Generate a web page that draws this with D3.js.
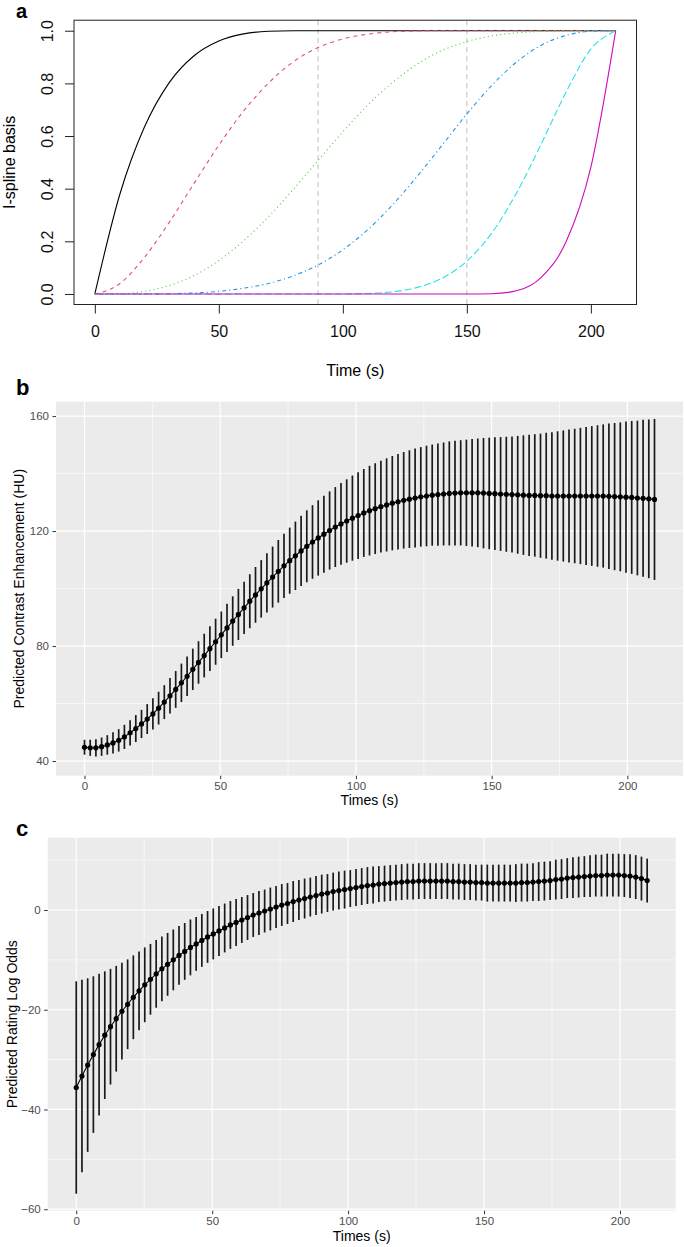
<!DOCTYPE html>
<html>
<head>
<meta charset="utf-8">
<script src="https://cdn.jsdelivr.net/npm/d3@7"></script>
<style>
  body { margin: 0; background: #fff; }
  svg { display: block; font-family: "Liberation Sans", Arial, Helvetica, sans-serif; }
</style>
</head>
<body>
<svg id="fig" width="685" height="1247"></svg>
<script>
// ---- panel a: I-spline basis, read every 10 s ----
const splineTimes = [0, 10, 20, 30, 40, 50, 60, 70, 80, 90, 100, 110, 120, 130, 140, 150, 160, 170, 180, 190, 200, 210];
const basis1 = [0, 0.376, 0.634, 0.803, 0.905, 0.961, 0.988, 0.998, 1, 1, 1, 1, 1, 1, 1, 1, 1, 1, 1, 1, 1, 1];
const basis2 = [0, 0.039, 0.139, 0.272, 0.420, 0.565, 0.695, 0.801, 0.882, 0.936, 0.969, 0.987, 0.996, 0.999, 1, 1, 1, 1, 1, 1, 1, 1];
const basis3 = [0, 0.001, 0.010, 0.032, 0.070, 0.127, 0.202, 0.293, 0.397, 0.507, 0.616, 0.717, 0.803, 0.873, 0.925, 0.959, 0.980, 0.992, 0.997, 0.999, 1, 1];
const basis4 = [0, 0, 0, 0.001, 0.004, 0.010, 0.022, 0.040, 0.069, 0.110, 0.168, 0.244, 0.338, 0.447, 0.565, 0.684, 0.792, 0.881, 0.945, 0.982, 0.998, 1];
const basis5 = [0, 0, 0, 0, 0, 0, 0, 0, 0, 0, 0, 0.002, 0.008, 0.025, 0.060, 0.125, 0.231, 0.383, 0.570, 0.767, 0.930, 1];
const basis6 = [0, 0, 0, 0, 0, 0, 0, 0, 0, 0, 0, 0, 0, 0, 0, 0, 0.001, 0.012, 0.063, 0.198, 0.482, 1];
const knots = [90, 150];

// ---- panels b and c: predictions on a 2.1 s grid ----
const times = [0, 2.1, 4.2, 6.3, 8.4, 10.5, 12.6, 14.7, 16.8, 18.9, 21, 23.1, 25.2, 27.3, 29.4, 31.5, 33.6, 35.7, 37.8, 39.9,
  42, 44.1, 46.2, 48.3, 50.4, 52.5, 54.6, 56.7, 58.8, 60.9, 63, 65.1, 67.2, 69.3, 71.4, 73.5, 75.6, 77.7, 79.8, 81.9,
  84, 86.1, 88.2, 90.3, 92.4, 94.5, 96.6, 98.7, 100.8, 102.9, 105, 107.1, 109.2, 111.3, 113.4, 115.5, 117.6, 119.7, 121.8, 123.9,
  126, 128.1, 130.2, 132.3, 134.4, 136.5, 138.6, 140.7, 142.8, 144.9, 147, 149.1, 151.2, 153.3, 155.4, 157.5, 159.6, 161.7, 163.8, 165.9,
  168, 170.1, 172.2, 174.3, 176.4, 178.5, 180.6, 182.7, 184.8, 186.9, 189, 191.1, 193.2, 195.3, 197.4, 199.5, 201.6, 203.7, 205.8, 207.9, 210];

const enhMean = [44.8, 44.6, 44.6, 45.0, 45.6, 46.3, 47.2, 48.4, 49.8, 51.3,
  52.9, 54.6, 56.4, 58.4, 60.5, 62.7, 64.9, 67.2, 69.5, 71.9,
  74.3, 76.7, 79.1, 81.5, 83.9, 86.3, 88.7, 91.0, 93.3, 95.6,
  97.8, 99.9, 102.0, 104.0, 106.0, 107.9, 109.7, 111.4, 113.1, 114.7,
  116.2, 117.6, 118.9, 120.2, 121.4, 122.5, 123.5, 124.5, 125.4, 126.3,
  127.1, 127.8, 128.5, 129.1, 129.7, 130.2, 130.7, 131.1, 131.5, 131.9,
  132.2, 132.5, 132.7, 132.9, 133.1, 133.2, 133.3, 133.3, 133.3, 133.3,
  133.2, 133.1, 133.0, 132.9, 132.8, 132.7, 132.6, 132.5, 132.4, 132.4,
  132.3, 132.3, 132.2, 132.2, 132.2, 132.2, 132.2, 132.2, 132.2, 132.2,
  132.2, 132.2, 132.1, 132.0, 131.9, 131.8, 131.7, 131.5, 131.4, 131.2, 131.0];
const enhErr = [2.6, 2.8, 3.0, 3.2, 3.4, 3.7, 3.9, 4.2, 4.4, 4.7,
  4.9, 5.2, 5.4, 5.7, 5.9, 6.2, 6.4, 6.7, 6.9, 7.2,
  7.4, 7.6, 7.8, 8.0, 8.1, 8.4, 8.6, 8.9, 9.1, 9.4,
  9.7, 10.0, 10.3, 10.6, 10.9, 11.2, 11.5, 11.9, 12.2, 12.5,
  12.8, 13.1, 13.4, 13.6, 13.9, 14.2, 14.5, 14.8, 15.1, 15.3,
  15.6, 15.8, 16.0, 16.2, 16.4, 16.6, 16.8, 17.0, 17.2, 17.3,
  17.5, 17.6, 17.8, 17.9, 18.1, 18.2, 18.3, 18.5, 18.7, 18.9,
  19.2, 19.4, 19.6, 19.8, 20.0, 20.2, 20.5, 20.8, 21.1, 21.3,
  21.6, 21.9, 22.2, 22.5, 22.8, 23.1, 23.4, 23.7, 24.0, 24.3,
  24.6, 24.9, 25.3, 25.6, 25.9, 26.3, 26.6, 26.9, 27.3, 27.6, 28.0];

const oddsMean = [-35.6, -33.3, -31.1, -29.0, -27.0, -25.1, -23.4, -21.8, -20.3, -18.9,
  -17.5, -16.2, -15.0, -13.9, -12.8, -11.8, -10.9, -10.0, -9.1, -8.3,
  -7.5, -6.8, -6.1, -5.4, -4.8, -4.2, -3.6, -3.0, -2.5, -2.0,
  -1.5, -1.0, -0.6, -0.2, 0.2, 0.6, 1.0, 1.3, 1.7, 2.0,
  2.3, 2.6, 2.9, 3.2, 3.4, 3.7, 3.9, 4.1, 4.3, 4.5,
  4.7, 4.9, 5.0, 5.2, 5.3, 5.4, 5.5, 5.6, 5.7, 5.7,
  5.8, 5.8, 5.8, 5.8, 5.8, 5.8, 5.7, 5.7, 5.6, 5.6,
  5.5, 5.5, 5.4, 5.4, 5.4, 5.4, 5.4, 5.4, 5.5, 5.5,
  5.6, 5.7, 5.8, 5.9, 6.1, 6.2, 6.4, 6.5, 6.6, 6.7,
  6.8, 6.9, 6.9, 7.0, 7.0, 7.0, 6.9, 6.8, 6.6, 6.3, 5.9];
const oddsErr = [21.3, 19.3, 17.4, 15.7, 14.2, 12.8, 11.6, 10.6, 9.7, 9.0,
  8.4, 7.9, 7.5, 7.1, 6.8, 6.5, 6.3, 6.1, 5.9, 5.7,
  5.6, 5.4, 5.3, 5.2, 5.1, 5.0, 4.9, 4.8, 4.7, 4.6,
  4.5, 4.4, 4.4, 4.3, 4.3, 4.2, 4.2, 4.1, 4.1, 4.0,
  4.0, 3.9, 3.9, 3.9, 3.8, 3.8, 3.8, 3.8, 3.7, 3.7,
  3.7, 3.7, 3.7, 3.6, 3.6, 3.6, 3.6, 3.6, 3.6, 3.6,
  3.6, 3.6, 3.6, 3.6, 3.6, 3.6, 3.6, 3.6, 3.6, 3.6,
  3.6, 3.6, 3.7, 3.7, 3.7, 3.7, 3.7, 3.8, 3.8, 3.8,
  3.8, 3.9, 3.9, 3.9, 4.0, 4.0, 4.0, 4.1, 4.1, 4.1,
  4.2, 4.2, 4.2, 4.3, 4.3, 4.3, 4.3, 4.4, 4.4, 4.4, 4.4];

const svg = d3.select("#fig");

// ================= panel a (base R style) =================
const A = { left: 74, right: 636.5, top: 20.2, bottom: 304.5 };
const ax = d3.scaleLinear().domain([-8.4, 218.4]).range([A.left, A.right]);
const ay = d3.scaleLinear().domain([-0.04, 1.04]).range([A.bottom, A.top]);
const ga = svg.append("g");

// knot lines
ga.selectAll("line.knot").data(knots).join("line")
    .attr("x1", d => ax(d)).attr("x2", d => ax(d))
    .attr("y1", A.top).attr("y2", A.bottom)
    .attr("stroke", "#bdbdbd").attr("stroke-width", 1).attr("stroke-dasharray", "5,4");

const basisSeries = [
  { values: basis1, color: "#000000", dash: null },
  { values: basis2, color: "#DF536B", dash: "4,4" },
  { values: basis3, color: "#61D04F", dash: "1.2,3" },
  { values: basis4, color: "#2297E6", dash: "1.2,3,4,3" },
  { values: basis5, color: "#28E2E5", dash: "7,3" },
  { values: basis6, color: "#CD0BBC", dash: null }
];
const basisLine = d3.line()
    .x((d, i) => ax(splineTimes[i]))
    .y(d => ay(d))
    .curve(d3.curveMonotoneX);

ga.selectAll("path.basis").data(basisSeries).join("path")
    .attr("d", s => basisLine(s.values))
    .attr("fill", "none")
    .attr("stroke", s => s.color)
    .attr("stroke-width", 1.1)
    .attr("stroke-dasharray", s => s.dash);

// box
ga.append("rect").attr("x", A.left).attr("y", A.top)
    .attr("width", A.right - A.left).attr("height", A.bottom - A.top)
    .attr("fill", "none").attr("stroke", "#222").attr("stroke-width", 1);

const axA = ga.append("g").attr("transform", `translate(0,${A.bottom})`)
    .call(d3.axisBottom(ax).tickValues([0, 50, 100, 150, 200]).tickSize(9).tickPadding(12).tickSizeOuter(0));
axA.select(".domain").remove();
axA.selectAll("line").attr("stroke", "#222");
axA.selectAll("text").attr("font-size", 16).attr("fill", "#111");

const ayA = ga.append("g").attr("transform", `translate(${A.left},0)`)
    .call(d3.axisLeft(ay).tickValues([0, 0.2, 0.4, 0.6, 0.8, 1]).tickFormat(d3.format(".1f")).tickSize(9));
ayA.select(".domain").remove();
ayA.selectAll("line").attr("stroke", "#222");
ayA.selectAll("text")
    .attr("font-size", 16).attr("fill", "#111")
    .attr("x", null).attr("dy", null)
    .attr("text-anchor", "middle")
    .attr("transform", "translate(-21,0) rotate(-90)");

ga.append("text").attr("x", (A.left + A.right) / 2).attr("y", 376)
    .attr("text-anchor", "middle").attr("font-size", 16).text("Time (s)");
ga.append("text").attr("transform", `translate(15,${(A.top + A.bottom) / 2}) rotate(-90)`)
    .attr("text-anchor", "middle").attr("font-size", 16).text("I-spline basis");
ga.append("text").attr("x", 16).attr("y", 18).attr("font-size", 20).attr("font-weight", "bold").text("a");

// ================= panels b, c (ggplot style) =================
function ggPanel(cfg) {
  const g = svg.append("g");
  const x = d3.scaleLinear().domain(cfg.xDomain).range([cfg.left, cfg.right]);
  const y = d3.scaleLinear().domain(cfg.yDomain).range([cfg.bottom, cfg.top]);
  const rows = times.map((t, i) => ({ t, mean: cfg.mean[i], err: cfg.err[i] }));

  g.append("rect").attr("x", cfg.left).attr("y", cfg.top)
      .attr("width", cfg.right - cfg.left).attr("height", cfg.bottom - cfg.top)
      .attr("fill", "#EBEBEB");

  // grid
  g.selectAll("line.vmin").data(cfg.xMinor).join("line")
      .attr("x1", d => x(d)).attr("x2", d => x(d)).attr("y1", cfg.top).attr("y2", cfg.bottom)
      .attr("stroke", "#fff").attr("stroke-width", 0.6);
  g.selectAll("line.hmin").data(cfg.yMinor).join("line")
      .attr("y1", d => y(d)).attr("y2", d => y(d)).attr("x1", cfg.left).attr("x2", cfg.right)
      .attr("stroke", "#fff").attr("stroke-width", 0.6);
  g.selectAll("line.vmaj").data(cfg.xTicks).join("line")
      .attr("x1", d => x(d)).attr("x2", d => x(d)).attr("y1", cfg.top).attr("y2", cfg.bottom)
      .attr("stroke", "#fff").attr("stroke-width", 1.2);
  g.selectAll("line.hmaj").data(cfg.yTicks).join("line")
      .attr("y1", d => y(d)).attr("y2", d => y(d)).attr("x1", cfg.left).attr("x2", cfg.right)
      .attr("stroke", "#fff").attr("stroke-width", 1.2);

  // error bars
  g.selectAll("line.err").data(rows).join("line")
      .attr("x1", d => x(d.t)).attr("x2", d => x(d.t))
      .attr("y1", d => y(d.mean - d.err)).attr("y2", d => y(d.mean + d.err))
      .attr("stroke", "#1a1a1a").attr("stroke-width", 1.7);

  g.append("path").datum(rows)
      .attr("d", d3.line().x(d => x(d.t)).y(d => y(d.mean)))
      .attr("fill", "none").attr("stroke", "#000").attr("stroke-width", 1.1);

  g.selectAll("circle").data(rows).join("circle")
      .attr("cx", d => x(d.t)).attr("cy", d => y(d.mean)).attr("r", 2.6).attr("fill", "#000");

  const xa = g.append("g").attr("transform", `translate(0,${cfg.bottom})`)
      .call(d3.axisBottom(x).tickValues(cfg.xTicks).tickSize(3.5).tickPadding(3).tickSizeOuter(0));
  xa.select(".domain").remove();
  xa.selectAll("line").attr("stroke", "#333");
  xa.selectAll("text").attr("font-size", 11.5).attr("fill", "#4D4D4D");

  const ya = g.append("g").attr("transform", `translate(${cfg.left},0)`)
      .call(d3.axisLeft(y).tickValues(cfg.yTicks).tickSize(3.5).tickPadding(3.5).tickSizeOuter(0));
  ya.select(".domain").remove();
  ya.selectAll("line").attr("stroke", "#333");
  ya.selectAll("text").attr("font-size", 11.5).attr("fill", "#4D4D4D");

  g.append("text").attr("x", (cfg.left + cfg.right) / 2).attr("y", cfg.xTitleY)
      .attr("text-anchor", "middle").attr("font-size", 14).text("Times (s)");
  g.append("text").attr("transform", `translate(${cfg.yTitleX},${(cfg.top + cfg.bottom) / 2}) rotate(-90)`)
      .attr("text-anchor", "middle").attr("font-size", 14).text(cfg.yTitle);
  g.append("text").attr("x", 16).attr("y", cfg.tagY).attr("font-size", 22)
      .attr("font-weight", "bold").text(cfg.tag);
}

ggPanel({
  tag: "b", tagY: 395,
  left: 56, right: 683, top: 401.7, bottom: 775.7,
  xDomain: [-10.5, 220.5], yDomain: [34.9, 165],
  xTicks: [0, 50, 100, 150, 200], xMinor: [25, 75, 125, 175],
  yTicks: [40, 80, 120, 160], yMinor: [60, 100, 140],
  mean: enhMean, err: enhErr,
  yTitle: "Predicted Contrast Enhancement (HU)", yTitleX: 24, xTitleY: 805
});

ggPanel({
  tag: "c", tagY: 836,
  left: 47.7, right: 675.7, top: 837.7, bottom: 1210.7,
  xDomain: [-10.5, 220.5], yDomain: [-60.3, 14.5],
  xTicks: [0, 50, 100, 150, 200], xMinor: [25, 75, 125, 175],
  yTicks: [-60, -40, -20, 0], yMinor: [-50, -30, -10, 10],
  mean: oddsMean, err: oddsErr,
  yTitle: "Predicted Rating Log Odds", yTitleX: 17, xTitleY: 1241
});
</script>
</body>
</html>
